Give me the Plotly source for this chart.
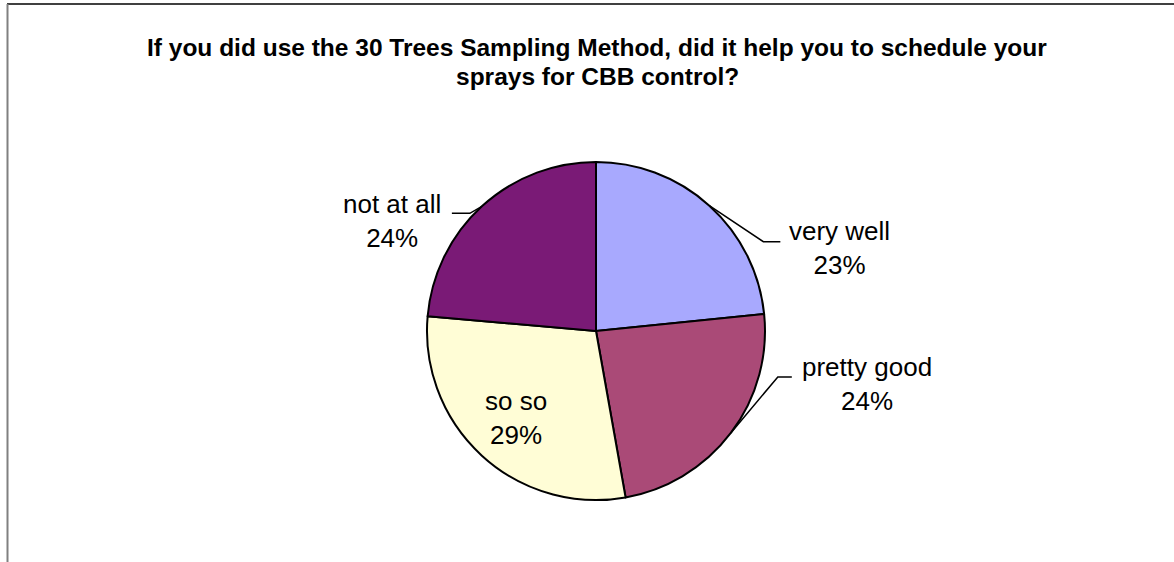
import math
import plotly.graph_objects as go

# ---- data ----
categories = ["very well", "pretty good", "so so", "not at all"]
values = [23.4, 23.8, 29.2, 23.6]
colors = ["#A8A9FE", "#AA4A77", "#FFFDD6", "#7A1A76"]
title_lines = ["If you did use the 30 Trees Sampling Method, did it help you to schedule your",
               "sprays for CBB control?"]

W, H = 1174, 562
CX, CY, R = 596, 331, 169  # pie centre / radius in px


def px(x):
    return x / W


def py(y):
    return 1 - y / H


fig = go.Figure(go.Pie(
    labels=categories, values=values, sort=False, direction="clockwise", rotation=0,
    marker=dict(colors=colors, line=dict(color="black", width=2)),
    textinfo="none", hoverinfo="label+percent", showlegend=False,
    domain=dict(x=[px(CX - R), px(CX + R)], y=[py(CY + R), py(CY - R)]),
))

total = sum(values)
pcts = [round(v / total * 100) for v in values]

# label layout style: (mode, elbow dx, elbow dy, end dx, text gap, text dy)
label_style = {
    "very well": ("right", 54, 36, 17, 7, 6),
    "pretty good": ("right", 47, -56, 14, 8, 7),
    "so so": ("inside", 0, 0, 0, 0, 0),
    "not at all": ("left", -12, 7, -18, 9, 8),
}
LABEL_FONT = dict(size=26, color="black")

shapes = []
annotations = []
cum = 0
for cat, v, p in zip(categories, values, pcts):
    mid = (cum + v / 2) / total * 2 * math.pi
    cum += v
    mode, edx, edy, endx, gap, tdy = label_style[cat]
    text = f"{cat}<br>{p}%"
    if mode == "inside":
        tx = CX + 0.7 * R * math.sin(mid)
        ty = CY - 0.7 * R * math.cos(mid)
        annotations.append(dict(x=px(tx), y=py(ty), xref="paper", yref="paper", text=text,
                                showarrow=False, align="center", xanchor="center", yanchor="middle",
                                font=LABEL_FONT))
        continue
    sx = CX + R * math.sin(mid)
    sy = CY - R * math.cos(mid)
    ex, ey = sx + edx, sy + edy
    fx = ex + endx
    path = f"M {px(sx)},{py(sy)} L {px(ex)},{py(ey)} L {px(fx)},{py(ey)}"
    shapes.append(dict(type="path", xref="paper", yref="paper", path=path,
                       line=dict(color="black", width=1.5)))
    annotations.append(dict(x=px(fx + (gap if mode == "right" else -gap)), y=py(ey + tdy),
                            xref="paper", yref="paper", text=text, showarrow=False,
                            align="center", xanchor="left" if mode == "right" else "right",
                            yanchor="middle", font=LABEL_FONT))

for line, ty in zip(title_lines, [47, 76]):
    annotations.append(dict(x=px(597), y=py(ty), xref="paper", yref="paper", text=f"<b>{line}</b>",
                            showarrow=False, align="center", xanchor="center", yanchor="middle",
                            font=dict(size=24.5, color="black")))

# chart frame
shapes.append(dict(type="line", xref="paper", yref="paper", x0=px(7), x1=1, y0=py(4), y1=py(4),
                   line=dict(color="black", width=1.5)))
shapes.append(dict(type="line", xref="paper", yref="paper", x0=px(7.5), x1=px(7.5), y0=py(4), y1=0,
                   line=dict(color="#808080", width=2)))

fig.update_layout(
    width=W, height=H, margin=dict(l=0, r=0, t=0, b=0),
    paper_bgcolor="white", plot_bgcolor="white",
    font=dict(family="Liberation Sans, Arial, sans-serif"),
    shapes=shapes, annotations=annotations,
)
fig.write_html("out.html", config={"displayModeBar": False},
               post_script="document.body.style.margin='0px';")
